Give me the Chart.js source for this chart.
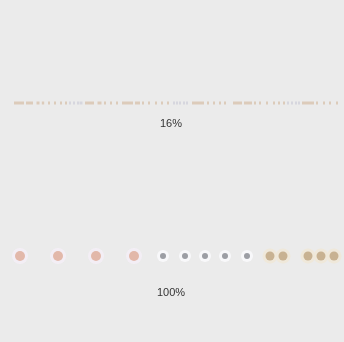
<html>
<head>
    <script src="https://cdn.jsdelivr.net/npm/chart.js@4.4.1/dist/chart.umd.min.js"></script>
    <style>
        body {
            margin: 0;
            background: #ebebeb;
        }

        .wrap {
            width: 344px;
            height: 342px;
        }
    </style>
</head>

<body>
    <div class="wrap">
        <canvas id="canvas" width="344" height="342"></canvas>
    </div>
    <script>
        // row captions and their baselines
        var rowLabels = ['16%', '100%'];
        var rowY = [103, 256];
        var labelY = [124, 293];

        // thumbnail strip (16%): centre x, half length, tone
        var smallX = [19, 29.5, 38, 43, 49, 55, 61, 66, 70, 74, 78, 81, 89.5, 99.5, 105, 111, 117, 127.5, 137.5,
            143, 149, 156, 162, 168, 174, 177, 180, 184, 187, 198, 208, 214, 220, 225, 237.5, 248,
            255, 260, 267, 274, 279, 284, 288, 292, 296, 299, 308, 317, 324, 330, 337];
        var smallLen = [5, 3.5, 1.5, 1.2, 1, 1, 1, 1, 1, 1, 1, 1.5, 4.5, 2, 1, 1, 1, 5.5, 2.5,
            1, 1, 1, 1, 1, 1, 1, 1, 1, 1, 6, 1, 1, 1, 1, 4.5, 4,
            1, 1, 1, 1, 1, 1, 1, 1, 1, 1, 6, 1, 1, 1, 1];
        var smallTone = ['t', 't', 't', 't', 't', 't', 't', 't', 'g', 'g', 'g', 'g', 't', 't', 't', 't', 't', 't', 't',
            't', 't', 't', 't', 't', 'g', 'g', 'g', 'g', 'g', 't', 't', 't', 't', 't', 't', 't',
            't', 't', 't', 't', 't', 't', 'g', 'g', 'g', 'g', 't', 't', 't', 't', 't'];

        // full size row (100%): centre x, radius, tone
        var fullX = [20, 58, 96, 134, 163, 185, 205, 225, 247, 270, 283, 308, 321, 334];
        var fullR = [5, 5, 5, 5, 3, 3, 3, 3, 3, 4.5, 4.5, 4.5, 4.5, 4.5];
        var fullTone = ['p', 'p', 'p', 'p', 'g', 'g', 'g', 'g', 'g', 'o', 'o', 'o', 'o', 'o'];

        var toneFill = {
            t: 'rgb(220, 203, 186)',
            g: 'rgb(214, 214, 222)'
        };
        var fullGlow = {
            p: 'rgba(244, 238, 246, 0.9)',
            g: 'rgba(250, 250, 252, 0.9)',
            o: 'rgba(240, 232, 216, 0.9)'
        };
        var fullCore = {
            p: 'rgb(226, 184, 170)',
            g: 'rgb(156, 158, 164)',
            o: 'rgb(200, 178, 146)'
        };

        var smallPoints = smallX.map(function(x, i) {
            return { x: x, y: rowY[0], r: smallLen[i] };
        });
        var fullPoints = fullX.map(function(x, i) {
            return { x: x, y: rowY[1], r: fullR[i] };
        });

        var rowCaptions = {
            id: 'rowCaptions',
            afterDatasetsDraw: function(chart) {
                var ctx = chart.ctx;
                var xs = chart.scales.x;
                var ys = chart.scales.y;
                ctx.save();
                ctx.font = '11px "Liberation Sans", Arial, sans-serif';
                ctx.fillStyle = '#333';
                ctx.textAlign = 'center';
                ctx.textBaseline = 'middle';
                rowLabels.forEach(function(t, i) {
                    ctx.fillText(t, xs.getPixelForValue(171), ys.getPixelForValue(labelY[i]));
                });
                ctx.restore();
            }
        };

        var ctx = document.getElementById('canvas').getContext('2d');
        // datasets listed first are painted on top
        var chart = new Chart(ctx, {
            type: 'bubble',
            data: {
                datasets: [{
                    label: rowLabels[0],
                    data: smallPoints,
                    pointStyle: 'line',
                    borderWidth: 3,
                    borderColor: smallTone.map(function(t) { return toneFill[t]; }),
                    backgroundColor: smallTone.map(function(t) { return toneFill[t]; })
                }, {
                    label: rowLabels[1],
                    data: fullPoints,
                    borderWidth: 0,
                    backgroundColor: fullTone.map(function(t) { return fullCore[t]; })
                }, {
                    label: rowLabels[1] + ' glow',
                    data: fullPoints.map(function(p) { return { x: p.x, y: p.y, r: p.r + 3 }; }),
                    borderWidth: 0,
                    backgroundColor: fullTone.map(function(t) { return fullGlow[t]; })
                }]
            },
            options: {
                responsive: false,
                animation: false,
                clip: false,
                layout: { padding: 0, autoPadding: false },
                plugins: {
                    legend: { display: false },
                    tooltip: { enabled: false }
                },
                scales: {
                    x: { type: 'linear', min: 0, max: 344, display: false },
                    y: { type: 'linear', min: 0, max: 342, reverse: true, display: false }
                }
            },
            plugins: [rowCaptions]
        });
    </script>
</body>
</html>
